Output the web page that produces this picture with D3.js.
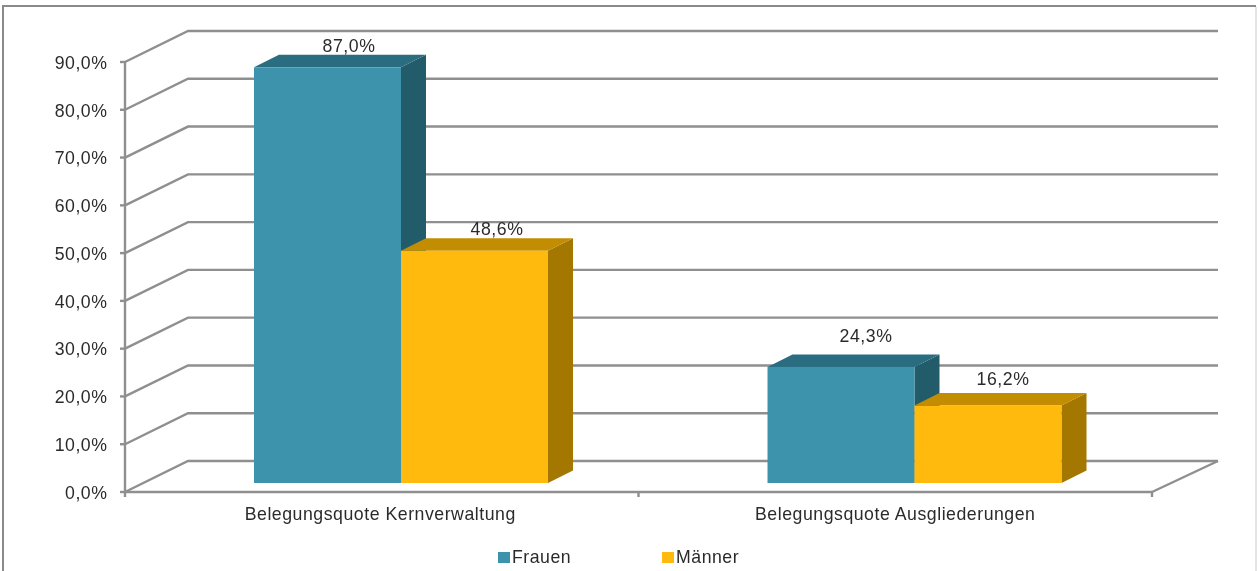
<!DOCTYPE html>
<html><head><meta charset="utf-8">
<script src="https://cdn.jsdelivr.net/npm/d3@7/dist/d3.min.js"></script>
<style>html,body{margin:0;padding:0;background:#fff;overflow:hidden}svg{display:block}
text{font-family:"Liberation Sans",Arial,sans-serif;fill:#2b2b2b;font-size:17.7px;letter-spacing:0.53px}</style></head>
<body><svg id="c" width="1258" height="571"></svg>
<script>
const categories = ["Belegungsquote Kernverwaltung", "Belegungsquote Ausgliederungen"];
const seriesNames = ["Frauen", "Männer"];
const frauen = [87.0, 24.3];
const maenner = [48.6, 16.2];
const labelFrauen = ["87,0%", "24,3%"];
const labelMaenner = ["48,6%", "16,2%"];
const yTicks = [0,10,20,30,40,50,60,70,80,90];
const seriesValues = [frauen, maenner];
const seriesLabels = [labelFrauen, labelMaenner];

const W = 1258, H = 571;
const svg = d3.select("#c");
const defs = svg.append("defs");
defs.append("filter").attr("id","soft").attr("x","-2%").attr("y","-2%").attr("width","104%").attr("height","104%")
  .append("feGaussianBlur").attr("stdDeviation",0.45);
const root = svg.append("g").attr("filter","url(#soft)");

const y = d3.scaleLinear().domain([0,90]).range([492,62]);
const x = d3.scaleBand().domain(categories).range([125,1152]);
const inner = d3.scaleBand().domain(seriesNames).range([0,294]);
const wallDx = 63, wallDy = -31, rightDx = 66;
const depthDx = 25, depthDy = -12.5, floorInset = 9, groupShift = 129;
const gridCol = "#8f8f8f";
const palette = {
  Frauen:{front:"#3c93ac", top:"#2b6d80", side:"#245b6a"},
  "Männer":{front:"#ffba0d", top:"#c28d00", side:"#a37700"}
};

// outer frame
root.append("path").attr("d",`M3,${H}V6H1256`).attr("fill","none").attr("stroke","#8a8a8a").attr("stroke-width",2);
root.append("path").attr("d",`M1256,7V${H}`).attr("fill","none").attr("stroke","#e4e4e4").attr("stroke-width",2);

// walls: gridlines on side and back
const grid = root.append("g").attr("fill","none").attr("stroke",gridCol).attr("stroke-width",2.4);
grid.selectAll("path.g").data(yTicks).join("path").attr("class","g")
  .attr("d",t=>`M${x.range()[0]},${y(t)}L${x.range()[0]+wallDx},${y(t)+wallDy}H${x.range()[1]+rightDx}`);
grid.append("path").attr("d",`M${x.range()[1]+rightDx},${y(0)+wallDy}L${x.range()[1]},${y(0)}`);

// axes
const axisG = root.append("g").attr("fill","none").attr("stroke",gridCol).attr("stroke-width",2.4);
axisG.append("path").attr("d",`M125,${y(90)}V${y(0)}H${x.range()[1]}`);
axisG.selectAll("path.yt").data(yTicks).join("path").attr("class","yt")
  .attr("d",t=>`M120,${y(t)}H125`);
const xEdges = [x.range()[0], ...categories.map(c=>x(c)+x.bandwidth())];
axisG.selectAll("path.xt").data(xEdges).join("path").attr("class","xt")
  .attr("d",e=>`M${e},${y(0)}v5`);

root.append("g").selectAll("text").data(yTicks).join("text")
  .attr("x",107.5).attr("y",t=>y(t)).attr("dy","0.38em").attr("text-anchor","end")
  .text(t=>d3.format(".1f")(t).replace(".",",")+"%");

root.append("g").selectAll("text").data(categories).join("text")
  .attr("x",(c,i)=>x(c)+x.bandwidth()/2 + (i?0:-1.5)).attr("y",520).attr("text-anchor","middle")
  .text(c=>c);

// bars
const barY = v => y(v) - floorInset;
seriesNames.forEach((s,si)=>{
  const g = root.append("g");
  categories.forEach((c,ci)=>{
    const v = seriesValues[si][ci], col = palette[s];
    const x0 = x(c)+groupShift+inner(s), x1 = x0+inner.bandwidth();
    const yt = barY(v), yb = barY(0);
    g.append("path").attr("fill",col.side)
      .attr("d",`M${x1},${yt}L${x1+depthDx},${yt+depthDy}V${yb+depthDy}L${x1},${yb}Z`);
    g.append("path").attr("fill",col.top)
      .attr("d",`M${x0},${yt}L${x0+depthDx},${yt+depthDy}H${x1+depthDx}L${x1},${yt}Z`);
    g.append("rect").attr("x",x0).attr("y",yt).attr("width",x1-x0).attr("height",yb-yt).attr("fill",col.front);
  });
});

// data labels (manually offset in the original)
const labelShift = [[[21.5,-15.5],[25,-24.5]],[[22.5,-16],[15,-20.5]]];
seriesNames.forEach((s,si)=>{
  categories.forEach((c,ci)=>{
    const v = seriesValues[si][ci];
    const [dx,dy] = labelShift[si][ci];
    root.append("text").attr("x",x(c)+groupShift+inner(s)+inner.bandwidth()/2+dx)
      .attr("y",barY(v)+dy).attr("text-anchor","middle")
      .text(seriesLabels[si][ci]);
  });
});

// legend
const legendX = d3.scaleOrdinal().domain(seriesNames).range([498,662]);
const leg = root.append("g").selectAll("g").data(seriesNames).join("g")
  .attr("transform",s=>`translate(${legendX(s)},552)`);
leg.append("rect").attr("width",12).attr("height",11).attr("fill",s=>palette[s].front);
leg.append("text").attr("x",14).attr("y",11).text(s=>s);
</script></body></html>
